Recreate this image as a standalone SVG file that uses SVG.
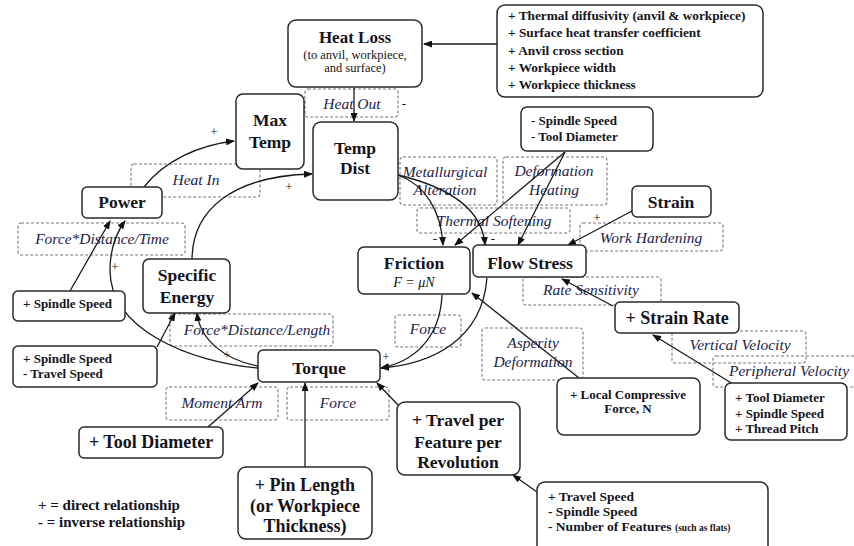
<svg xmlns="http://www.w3.org/2000/svg" width="854" height="546" viewBox="0 0 854 546">
<style>
.bg{fill:#fff}
.node{fill:#fff;stroke:#2a2a2a;stroke-width:1.5}
.dash{fill:none;stroke:#777;stroke-width:1.1;stroke-dasharray:3 2}
.edge{fill:none;stroke:#1a1a1a;stroke-width:1.3;marker-end:url(#arr)}
text{font-family:"Liberation Serif","Times New Roman",serif;fill:#141420}
.big{font-size:17.5px;font-weight:bold;text-anchor:middle}
.sm{font-size:13px;font-weight:bold}
.tr{font-size:13.3px;font-weight:bold}
.lab{font-size:15.5px;font-style:italic;text-anchor:middle;fill:#23234a}
.sign{font-size:13px;text-anchor:middle}
</style>
<defs>
<marker id="arr" markerUnits="userSpaceOnUse" markerWidth="9" markerHeight="7" refX="8" refY="3.5" orient="auto">
<path d="M0,0 L9,3.5 L0,7 z" fill="#111"/>
</marker>
</defs>
<rect class="bg" x="0" y="0" width="854" height="546"/>

<g id="labels">
<rect class="dash" x="305" y="89" width="93" height="28" rx="3"/>
<text class="lab" x="352" y="109">Heat Out</text>
<rect class="dash" x="131" y="164" width="129" height="33" rx="3"/>
<text class="lab" x="196" y="185">Heat In</text>
<rect class="dash" x="18" y="223" width="167" height="32" rx="3"/>
<text class="lab" x="102" y="244">Force*Distance/Time</text>
<rect class="dash" x="400" y="157" width="97" height="48" rx="3"/>
<text class="lab" x="445" y="177">Metallurgical</text>
<text class="lab" x="445" y="195">Alteration</text>
<rect class="dash" x="503" y="157" width="104" height="48" rx="3"/>
<text class="lab" x="554" y="176">Deformation</text>
<text class="lab" x="554" y="195">Heating</text>
<rect class="dash" x="417" y="208" width="153" height="25" rx="3"/>
<text class="lab" x="494" y="226">Thermal Softening</text>
<rect class="dash" x="580" y="223" width="143" height="28" rx="3"/>
<text class="lab" x="651" y="243">Work Hardening</text>
<rect class="dash" x="523" y="277" width="138" height="28" rx="3"/>
<text class="lab" x="591" y="295">Rate Sensitivity</text>
<rect class="dash" x="672" y="331" width="134" height="32" rx="3"/>
<text class="lab" x="740" y="350">Vertical Velocity</text>
<rect class="dash" x="713" y="356" width="150" height="31" rx="3"/>
<text class="lab" x="789" y="376">Peripheral Velocity</text>
<rect class="dash" x="170" y="314" width="163" height="32" rx="3"/>
<text class="lab" x="257" y="335">Force*Distance/Length</text>
<rect class="dash" x="395" y="315" width="66" height="32" rx="3"/>
<text class="lab" x="428" y="334">Force</text>
<rect class="dash" x="166" y="387" width="112" height="33" rx="3"/>
<text class="lab" x="222" y="408">Moment Arm</text>
<rect class="dash" x="287" y="387" width="102" height="33" rx="3"/>
<text class="lab" x="338" y="408">Force</text>
<rect class="dash" x="482" y="328" width="101" height="52" rx="3"/>
<text class="lab" x="533" y="348">Asperity</text>
<text class="lab" x="533" y="367">Deformation</text>
</g>

<g id="connectors">
<path class="edge" d="M497,44 L424,44"/>
<path class="edge" d="M354,88 L354,121"/>
<path class="edge" d="M144,187 C165,160 200,145 234,141"/>
<path class="edge" d="M192,260 C192,210 232,176 312,174"/>
<path class="edge" d="M258,368 C190,362 110,330 110,270 C110,248 117,232 125,221"/>
<path class="edge" d="M258,366 C225,360 200,340 197,313"/>
<path class="edge" d="M70,291 L110,221"/>
<path class="edge" d="M157,347 L175,313"/>
<path class="edge" d="M442,295 C440,340 412,362 381,368"/>
<path class="edge" d="M487,278 C482,340 432,364 381,368"/>
<path class="edge" d="M208,427 L258,383"/>
<path class="edge" d="M305,467 L305,383"/>
<path class="edge" d="M398,405 L377,383"/>
<path class="edge" d="M537,492 L513,475"/>
<path class="edge" d="M579,378 L472,293"/>
<path class="edge" d="M398,175 C425,185 441,210 443,245"/>
<path class="edge" d="M398,175 C440,185 482,205 485,245"/>
<path class="edge" d="M565,152 L455,245"/>
<path class="edge" d="M565,152 L518,245"/>
<path class="edge" d="M632,211 L568,245"/>
<path class="edge" d="M613,306 L562,279"/>
<path class="edge" d="M733,384 L653,335"/>
</g>

<g id="signs">
<text class="sign" x="404" y="108">-</text>
<text class="sign" x="214" y="136">+</text>
<text class="sign" x="289" y="191">+</text>
<text class="sign" x="115" y="271">+</text>
<text class="sign" x="227" y="359">+</text>
<text class="sign" x="386" y="361">+</text>
<text class="sign" x="435" y="243">-</text>
<text class="sign" x="493" y="243">-</text>
<text class="sign" x="597" y="222">+</text>
</g>

<g id="heat-loss">
<rect class="node" x="288" y="20" width="134" height="67" rx="8"/>
<text class="big" x="355" y="43" style="font-size:17px">Heat Loss</text>
<text x="355" y="59" style="font-size:12.5px;text-anchor:middle">(to anvil, workpiece,</text>
<text x="355" y="72" style="font-size:12.5px;text-anchor:middle">and surface)</text>
</g>
<g id="heat-loss-factors">
<rect class="node" x="497" y="5" width="266" height="92" rx="8"/>
<text class="tr" x="508" y="20">+ Thermal diffusivity (anvil &amp; workpiece)</text>
<text class="tr" x="508" y="37">+ Surface heat transfer coefficient</text>
<text class="tr" x="508" y="55">+ Anvil cross section</text>
<text class="tr" x="508" y="72">+ Workpiece width</text>
<text class="tr" x="508" y="89">+ Workpiece thickness</text>
</g>
<g id="max-temp">
<rect class="node" x="236" y="94" width="68" height="75" rx="7"/>
<text class="big" x="270" y="126">Max</text>
<text class="big" x="270" y="148">Temp</text>
</g>
<g id="temp-dist">
<rect class="node" x="313" y="122" width="85" height="78" rx="8"/>
<text class="big" x="355" y="154">Temp</text>
<text class="big" x="355" y="174">Dist</text>
</g>
<g id="power">
<rect class="node" x="82" y="187" width="80" height="31" rx="5"/>
<text class="big" x="122" y="208">Power</text>
</g>
<g id="specific-energy">
<rect class="node" x="143" y="259" width="87" height="54" rx="6"/>
<text class="big" x="187" y="281">Specific</text>
<text class="big" x="187" y="303">Energy</text>
</g>
<g id="spindle-speed">
<rect class="node" x="13" y="291" width="112" height="30" rx="5"/>
<text class="sm" x="23" y="308">+ Spindle Speed</text>
</g>
<g id="spindle-travel">
<rect class="node" x="13" y="346" width="144" height="41" rx="5"/>
<text class="sm" x="23" y="363">+ Spindle Speed</text>
<text class="sm" x="23" y="378">- Travel Speed</text>
</g>
<g id="torque">
<rect class="node" x="258" y="350" width="122" height="32" rx="5"/>
<text class="big" x="319" y="374">Torque</text>
</g>
<g id="tool-diameter">
<rect class="node" x="79" y="427" width="144" height="31" rx="5"/>
<text class="big" x="151" y="448" style="font-size:18px">+ Tool Diameter</text>
</g>
<g id="pin-length">
<rect class="node" x="238" y="467" width="134" height="72" rx="8"/>
<text class="big" x="305" y="491" style="font-size:18px">+ Pin Length</text>
<text class="big" x="305" y="512" style="font-size:18px">(or Workpiece</text>
<text class="big" x="305" y="532" style="font-size:18px">Thickness)</text>
</g>
<g id="travel-per">
<rect class="node" x="397" y="402" width="123" height="73" rx="8"/>
<text class="big" x="458" y="426">+ Travel per</text>
<text class="big" x="458" y="448">Feature per</text>
<text class="big" x="458" y="468">Revolution</text>
</g>
<g id="travel-factors">
<rect class="node" x="537" y="482" width="231" height="72" rx="8"/>
<text class="sm" x="548" y="501" style="font-size:13.5px">+ Travel Speed</text>
<text class="sm" x="548" y="516" style="font-size:13.5px">- Spindle Speed</text>
<text class="sm" x="548" y="531" style="font-size:13.5px">- Number of Features <tspan style="font-size:9.5px">(such as flats)</tspan></text>
</g>
<g id="local-compressive">
<rect class="node" x="557" y="378" width="143" height="57" rx="7"/>
<text class="sm" x="628" y="399" style="text-anchor:middle">+ Local Compressive</text>
<text class="sm" x="628" y="413" style="text-anchor:middle">Force, N</text>
</g>
<g id="strain-rate-factors">
<rect class="node" x="725" y="383" width="122" height="57" rx="6"/>
<text class="sm" x="735" y="402">+ Tool Diameter</text>
<text class="sm" x="735" y="418">+ Spindle Speed</text>
<text class="sm" x="735" y="433">+ Thread Pitch</text>
</g>
<g id="friction">
<rect class="node" x="358" y="247" width="112" height="47" rx="6"/>
<text class="big" x="414" y="269">Friction</text>
<text x="414" y="287" style="font-size:14px;font-style:italic;text-anchor:middle">F = μN</text>
</g>
<g id="flow-stress">
<rect class="node" x="473" y="245" width="113" height="32" rx="5"/>
<text class="big" x="530" y="269">Flow Stress</text>
</g>
<g id="spindle-tool">
<rect class="node" x="521" y="107" width="132" height="44" rx="6"/>
<text class="sm" x="531" y="125">- Spindle Speed</text>
<text class="sm" x="531" y="141">- Tool Diameter</text>
</g>
<g id="strain">
<rect class="node" x="632" y="186" width="79" height="31" rx="5"/>
<text class="big" x="671" y="208">Strain</text>
</g>
<g id="strain-rate">
<rect class="node" x="615" y="302" width="124" height="31" rx="5"/>
<text class="big" x="677" y="324" style="font-size:18px">+ Strain Rate</text>
</g>
<g id="legend">
<text class="sm" x="38" y="510" style="font-size:15px">+ = direct relationship</text>
<text class="sm" x="38" y="527" style="font-size:15px">- = inverse relationship</text>
</g>
</svg>
